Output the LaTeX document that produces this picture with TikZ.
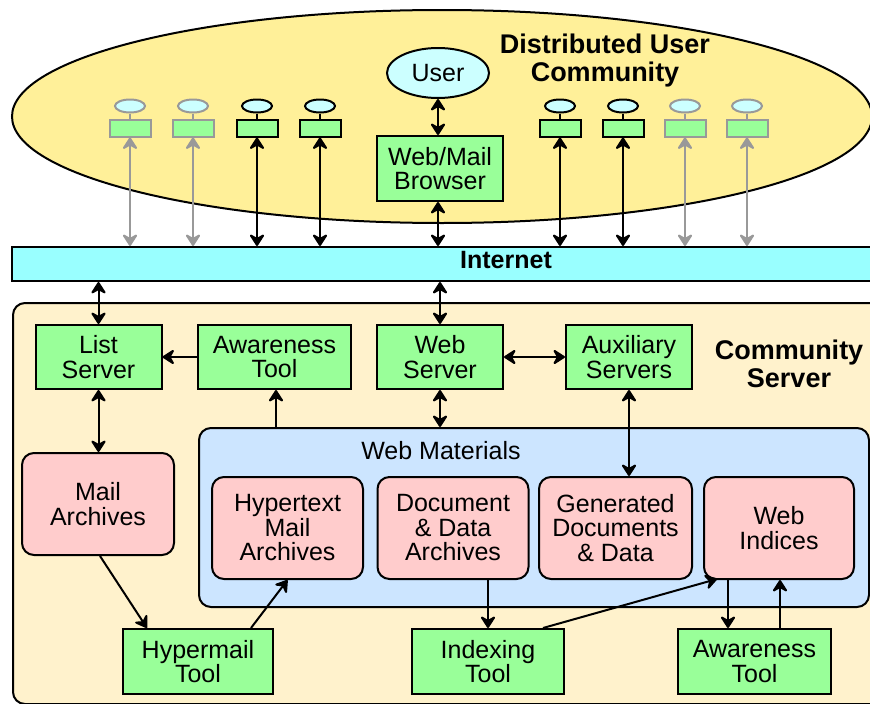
\documentclass[tikz,border=0pt]{standalone}
\usepackage{fontspec}
\setmainfont{Liberation Sans}
\usetikzlibrary{arrows.meta,shapes.geometric,calc}

\definecolor{cloudyellow}{HTML}{FFF099}
\definecolor{servercream}{HTML}{FFF2CC}
\definecolor{netcyan}{HTML}{99FFFF}
\definecolor{usercyan}{HTML}{CCFFFF}
\definecolor{toolgreen}{HTML}{99FF99}
\definecolor{storepink}{HTML}{FFCCCC}
\definecolor{webblue}{HTML}{CCE5FF}
\definecolor{faded}{HTML}{999999}

\tikzset{
  basefont/.style={font=\fontsize{25}{24.5}\selectfont},
  headfont/.style={font=\bfseries\fontsize{27}{28}\selectfont},
  tool/.style={draw, line width=2pt, fill=toolgreen, basefont, align=center,
    inner sep=0pt, minimum width=126pt, minimum height=64pt},
  store/.style={draw, line width=2pt, fill=storepink, basefont, align=center,
    inner sep=0pt, rounded corners=12pt, minimum width=151pt, minimum height=102pt},
  barb/.tip={Stealth[length=14pt 0 0,width=18pt 0 0,inset=5pt 0,round]},
  link/.style={line width=2pt, arrows={-barb}},
  twoway/.style={line width=2pt, arrows={barb-barb}},
  headicon/.style={draw, line width=2pt, fill=usercyan, ellipse, inner sep=0pt,
    minimum width=30pt, minimum height=13pt},
  termicon/.style={draw, line width=2pt, fill=toolgreen, inner sep=0pt,
    minimum width=41pt, minimum height=17pt},
}

\begin{document}
\begin{tikzpicture}[x=1pt,y=-1pt]
\useasboundingbox (0,0) rectangle (870,704);
\clip (0,0) rectangle (870,704);

% user community cloud
\node[draw, line width=2pt, fill=cloudyellow, ellipse, inner sep=0pt,
  minimum width=860pt, minimum height=213pt] (cloud) at (442,116.5) {};
\node[headfont, align=center] (cloudlabel) at (605,61) {Distributed User\\Community};

% internet backbone
\node[draw, line width=2pt, fill=netcyan, inner sep=0pt, anchor=north west,
  minimum width=900pt, minimum height=34pt] (inet) at (11,246) {};
\node[font=\bfseries\fontsize{25}{26}\selectfont] (inetlabel) at (506,260) {Internet};

% community server area
\node[draw, line width=2pt, fill=servercream, rounded corners=12pt, inner sep=0pt,
  anchor=north west, minimum width=900pt, minimum height=401pt] (server) at (12,302) {};
\node[headfont, align=center] (serverlabel) at (789,364) {Community\\Server};

% web materials area
\node[draw, line width=2pt, fill=webblue, rounded corners=12pt, inner sep=0pt,
  anchor=north west, minimum width=670pt, minimum height=179pt] (webmat) at (198,427) {};
\node[basefont] (webmatlabel) at (441,451) {Web Materials};

% main user and browser
\node[draw, line width=2pt, fill=usercyan, ellipse, inner sep=0pt, basefont,
  minimum width=102pt, minimum height=50pt] (user) at (438,73) {User};
\node[tool, minimum height=65pt] (browser) at (440,168.5) {Web/Mail\\Browser};

% other community members
\foreach \i/\x/\c in {1/130/faded, 2/193/faded, 3/257/black, 4/320/black,
                      5/560/black, 6/623/black, 7/685/faded, 8/747/faded} {
  \node[headicon, draw=\c] (h\i) at (\x,106) {};
  \node[termicon, draw=\c] (t\i) at (\x,128) {};
  \draw[line width=2pt, draw=\c] (h\i.south) -- (t\i.north);
  \draw[twoway, draw=\c] (t\i.south) -- (t\i.south |- inet.north);
}

% servers
\node[tool] (list) at (98.5,357) {List\\Server};
\node[tool, minimum width=153pt] (aware1) at (274.5,357) {Awareness\\Tool};
\node[tool] (websrv) at (440,357) {Web\\Server};
\node[tool] (aux) at (629,357) {Auxiliary\\Servers};

% archives
\node[store, minimum width=152pt] (mail) at (98,504) {Mail\\Archives};
\node[store] (hyper) at (287.5,528) {Hypertext\\Mail\\Archives};
\node[store] (docs) at (453,528) {Document\\\& Data\\Archives};
\node[store, minimum width=153pt] (gen) at (615.5,528) {Generated\\Documents\\\& Data};
\node[store, minimum width=150pt] (indices) at (779,528) {Web\\Indices};

% tools at the bottom
\node[tool, minimum width=150pt, minimum height=65pt] (hypermail) at (198,661.5) {Hypermail\\Tool};
\node[tool, minimum width=152pt, minimum height=65pt] (indexing) at (488,661.5) {Indexing\\Tool};
\node[tool, minimum width=153pt, minimum height=65pt] (aware2) at (754.5,661.5) {Awareness\\Tool};

% connectors
\draw[twoway] (user) -- (user |- browser.north);
\draw[twoway] (browser.south -| user) -- (user |- inet.north);
\draw[twoway] (inet.south -| list) -- (list.north);
\draw[twoway] (inet.south -| websrv) -- (websrv.north);
\draw[link] (aware1.west) -- (list.east);
\draw[twoway] (websrv.east) -- (aux.west);
\draw[twoway] (list.south) -- (mail.north -| list);
\draw[link] ([xshift=1.5pt]aware1.south |- webmat.north) -- ([xshift=1.5pt]aware1.south);
\draw[twoway] (websrv.south) -- (websrv.south |- webmat.north);
\draw[twoway] (aux.south) -- (aux.south |- gen.north);
\draw[link] ([xshift=2pt]mail.south) -- ([xshift=25pt]hypermail.north west);
\draw[link] ([xshift=-23pt]hypermail.north east) -- (hyper.south);
\draw[link] (indexing.north |- docs.south) -- (indexing.north);
\draw[link] ([xshift=-22pt]indexing.north east) -- ([xshift=14pt,yshift=1pt]indices.south west);
\draw[link] ([xshift=25pt]indices.south west) -- ([xshift=25pt]indices.south west |- aware2.north);
\draw[link] ([xshift=1pt]indices.south |- aware2.north) -- ([xshift=1pt]indices.south);
\end{tikzpicture}
\end{document}
